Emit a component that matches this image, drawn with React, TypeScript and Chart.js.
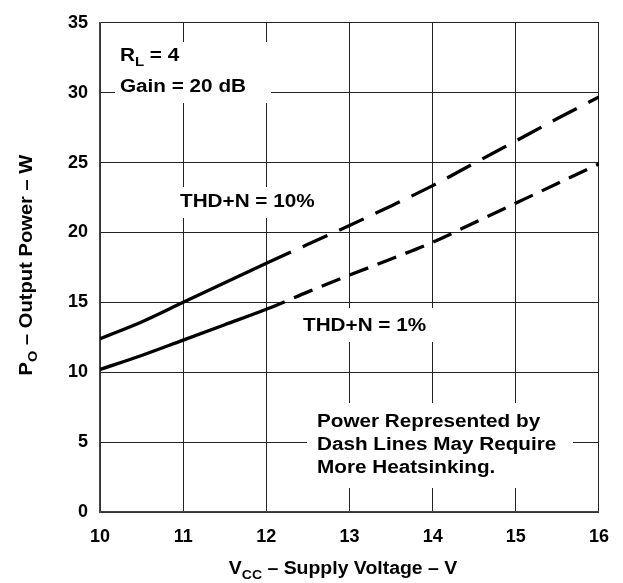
import React, { useEffect, useRef } from "react";
import { Chart, registerables } from "chart.js";

Chart.register(...registerables);

const xValues = [10, 10.5, 11, 11.5, 12, 12.5, 13, 13.5, 14, 14.5, 15, 15.5, 16];
const thd10 = [12.4, 13.6, 15.0, 16.4, 17.8, 19.15, 20.5, 21.9, 23.35, 24.95, 26.55, 28.15, 29.7];
const thd1 = [10.2, 11.2, 12.3, 13.4, 14.5, 15.75, 16.95, 18.1, 19.3, 20.7, 22.1, 23.5, 24.9];
const xTicks = [10, 11, 12, 13, 14, 15, 16];
const yTicks = [0, 5, 10, 15, 20, 25, 30, 35];
const dashStart = 12;

const FONT = "'Liberation Sans', Arial, sans-serif";

type Box = { x0: number; x1: number; y0: number; y1: number };
// masking boxes in pixel space (behind labels)
const boxes: Box[] = [
  { x0: 115, x1: 271, y0: 42, y1: 103 },
  { x0: 170, x1: 322, y0: 187, y1: 218 },
  { x0: 290, x1: 442, y0: 308, y1: 342 },
  { x0: 307, x1: 573, y0: 403, y1: 488 },
];

function drawSubText(
  ctx: CanvasRenderingContext2D,
  parts: { t: string; sub?: boolean }[],
  x: number,
  y: number,
  size: number,
  align: "left" | "center",
  hs: number
) {
  const mainFont = `bold ${size}px ${FONT}`;
  const subFont = `bold ${Math.round(size * 0.72)}px ${FONT}`;
  let total = 0;
  for (const p of parts) {
    ctx.font = p.sub ? subFont : mainFont;
    total += ctx.measureText(p.t).width;
  }
  ctx.save();
  ctx.translate(x, y);
  ctx.scale(hs, 1);
  let cx = align === "center" ? -total / 2 : 0;
  ctx.textBaseline = "alphabetic";
  ctx.textAlign = "left";
  for (const p of parts) {
    ctx.font = p.sub ? subFont : mainFont;
    ctx.fillText(p.t, cx, p.sub ? size * 0.3 : 0);
    cx += ctx.measureText(p.t).width;
  }
  ctx.restore();
}

const labelPlugin = {
  id: "labels",
  beforeDatasetsDraw(chart: any) {
    const ctx = chart.ctx as CanvasRenderingContext2D;
    ctx.save();
    ctx.fillStyle = "#ffffff";
    for (const b of boxes) ctx.fillRect(b.x0, b.y0, b.x1 - b.x0, b.y1 - b.y0);
    ctx.restore();
  },
  afterDraw(chart: any) {
    const ctx = chart.ctx as CanvasRenderingContext2D;
    ctx.save();
    ctx.fillStyle = "#000";
    const hs = 1.15;
    drawSubText(ctx, [{ t: "R" }, { t: "L", sub: true }, { t: " = 4" }], 120, 61, 18, "left", hs);
    drawSubText(ctx, [{ t: "Gain = 20 dB" }], 120, 92, 18, "left", hs);
    drawSubText(ctx, [{ t: "THD+N = 10%" }], 180, 207, 18, "left", hs);
    drawSubText(ctx, [{ t: "THD+N = 1%" }], 303, 331, 18, "left", hs);
    drawSubText(ctx, [{ t: "Power Represented by" }], 317, 427, 18, "left", hs);
    drawSubText(ctx, [{ t: "Dash Lines May Require" }], 317, 450, 18, "left", hs);
    drawSubText(ctx, [{ t: "More Heatsinking." }], 317, 473, 18, "left", hs);
    // x axis title
    drawSubText(
      ctx,
      [{ t: "V" }, { t: "CC", sub: true }, { t: " \u2013 Supply Voltage \u2013 V" }],
      343,
      574,
      18,
      "center",
      1.08
    );
    // y axis title
    ctx.translate(32, 265);
    ctx.rotate(-Math.PI / 2);
    drawSubText(
      ctx,
      [{ t: "P" }, { t: "O", sub: true }, { t: " \u2013 Output Power \u2013 W" }],
      0,
      0,
      18,
      "center",
      1.12
    );
    ctx.restore();
  },
};

export default function App() {
  const ref = useRef<HTMLCanvasElement | null>(null);
  useEffect(() => {
    if (!ref.current) return;
    const mk = (arr: number[]) => xValues.map((x, i) => ({ x, y: arr[i] }));
    const chart = new Chart(ref.current, {
      type: "line",
      data: {
        datasets: [
          {
            label: "THD+N = 10%",
            data: mk(thd10),
            borderColor: "#000",
            borderWidth: 3.3,
            pointRadius: 0,
            cubicInterpolationMode: "monotone",
            segment: {
              borderDash: (c: any) => (c.p0.parsed.x >= dashStart ? [27, 13] : undefined),
            },
          },
          {
            label: "THD+N = 1%",
            data: mk(thd1),
            borderColor: "#000",
            borderWidth: 3.3,
            pointRadius: 0,
            cubicInterpolationMode: "monotone",
            segment: {
              borderDash: (c: any) => (c.p0.parsed.x >= dashStart ? [20, 10] : undefined),
            },
          },
        ],
      },
      options: {
        responsive: false,
        animation: false,
        devicePixelRatio: 1,
        layout: { padding: { top: 13, right: 24, left: 0, bottom: 0 } },
        plugins: { legend: { display: false }, tooltip: { enabled: false } },
        scales: {
          x: {
            type: "linear",
            min: 10,
            max: 16,
            afterFit: (s: any) => {
              s.height = 71;
            },
            afterBuildTicks: (s: any) => {
              s.ticks = xTicks.map((v) => ({ value: v }));
            },
            grid: { color: "#222", lineWidth: 1, drawTicks: false },
            border: { color: "#444", width: 1.5 },
            ticks: {
              color: "#000",
              padding: 14,
              font: { family: FONT, size: 18, weight: "bold" },
            },
          },
          y: {
            type: "linear",
            min: 0,
            max: 35,
            afterFit: (s: any) => {
              s.width = 100;
            },
            afterBuildTicks: (s: any) => {
              s.ticks = yTicks.map((v) => ({ value: v }));
            },
            grid: { color: "#222", lineWidth: 1, drawTicks: false },
            border: { color: "#444", width: 1.5 },
            ticks: {
              color: "#000",
              padding: 12,
              font: { family: FONT, size: 18, weight: "bold" },
            },
          },
        },
      },
      plugins: [labelPlugin],
    } as any);
    return () => chart.destroy();
  }, []);
  return (
    <div style={{ position: "absolute", left: 0, top: 0, width: 623, height: 583, background: "#fff" }}>
      <canvas ref={ref} width={623} height={583} />
    </div>
  );
}
